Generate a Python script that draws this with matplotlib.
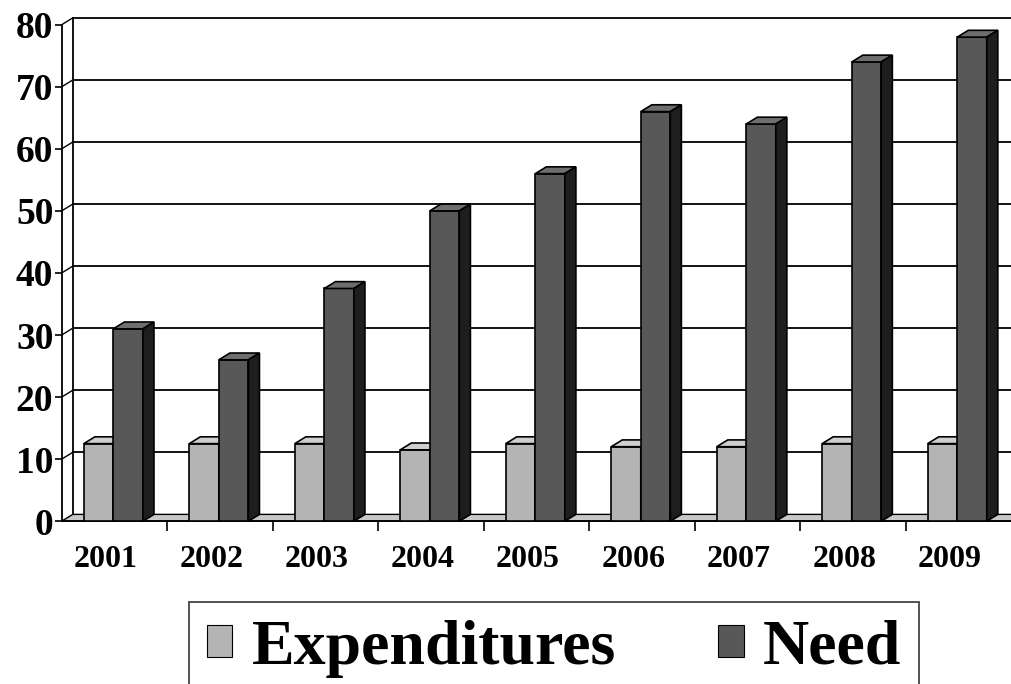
import numpy as np
import matplotlib
matplotlib.use("Agg")
import matplotlib.pyplot as plt
from matplotlib.patches import Polygon, Patch

years = ["2001", "2002", "2003", "2004", "2005", "2006", "2007", "2008", "2009"]
expenditures = [12.5, 12.5, 12.5, 11.5, 12.5, 12, 12, 12.5, 12.5]
need = [31, 26, 37.5, 50, 56, 66, 64, 74, 78]

plt.rcParams['font.family'] = ['Liberation Serif', 'DejaVu Serif']
plt.rcParams['font.weight'] = 'bold'

# 3D look: depth offset in data units
dx, dy = 0.105, 1.1
w = 0.28

fig = plt.figure(figsize=(10.11, 6.84), dpi=100)
ax = fig.add_axes([0.061, 0.238, 0.939, 0.744])
ax.set_xlim(-0.5, 8.5)
ax.set_ylim(0, 82)

# floor
ax.add_patch(Polygon([(-0.5, 0), (8.5, 0), (8.5 + dx, dy), (-0.5 + dx, dy)],
                     closed=True, facecolor='#c8c8c8', edgecolor='black', lw=1, zorder=1, clip_on=False))
# back wall gridlines and left wall
for v in range(10, 81, 10):
    ax.plot([-0.5 + dx, 8.5], [v + dy, v + dy], color='black', lw=1.3, zorder=1)
    ax.plot([-0.5, -0.5 + dx], [v, v + dy], color='black', lw=1, zorder=1)
ax.plot([-0.5 + dx, -0.5 + dx], [dy, 80 + dy], color='black', lw=1.3, zorder=1)


def bar3d(x0, h, front, top, side):
    ax.bar(x0, h, width=w, align='edge', color=front, edgecolor='black', lw=1.2, zorder=3)
    ax.add_patch(Polygon([(x0, h), (x0 + w, h), (x0 + w + dx, h + dy), (x0 + dx, h + dy)],
                         closed=True, facecolor=top, edgecolor='black', lw=1.2, zorder=3))
    ax.add_patch(Polygon([(x0 + w, 0), (x0 + w + dx, dy), (x0 + w + dx, h + dy), (x0 + w, h)],
                         closed=True, facecolor=side, edgecolor='black', lw=1.2, zorder=3))


for i in range(len(years)):
    bar3d(i - 0.29, expenditures[i], '#b4b4b4', '#cfcfcf', '#777777')
    bar3d(i - 0.01, need[i], '#585858', '#6e6e6e', '#1e1e1e')

for s in ['top', 'right']:
    ax.spines[s].set_visible(False)
ax.spines['left'].set_bounds(0, 80)
ax.spines['left'].set_linewidth(1.3)
ax.spines['bottom'].set_linewidth(1.3)

ax.set_yticks(range(0, 81, 10))
ax.set_yticklabels([str(v) for v in range(0, 81, 10)], fontsize=27, fontweight='bold')
ax.tick_params(axis='y', length=5, width=1.2, pad=1)

ax.set_xticks(np.arange(len(years)) - 0.08)
ax.set_xticklabels(years, fontsize=23, fontweight='bold')
ax.set_xticks(np.arange(0.5, 8.5, 1), minor=True)
ax.tick_params(axis='x', which='major', length=0, pad=17)
ax.tick_params(axis='x', which='minor', length=7, width=1.2, direction='out')

handles = [Patch(facecolor='#b4b4b4', edgecolor='black', lw=0.8),
           Patch(facecolor='#585858', edgecolor='black', lw=0.8)]
leg = fig.legend(handles, ['Expenditures', 'Need'], ncol=2, loc='upper center',
                 bbox_to_anchor=(0.548, 0.12), borderaxespad=0,
                 prop={'family': 'Liberation Serif', 'weight': 'bold', 'size': 46},
                 frameon=True, fancybox=False, edgecolor='black', handlelength=0.4, handleheight=0.4,
                 handletextpad=0.3, columnspacing=1.6, borderpad=0.28)
leg.get_frame().set_linewidth(1.2)

fig.savefig('out.png', dpi=100)
